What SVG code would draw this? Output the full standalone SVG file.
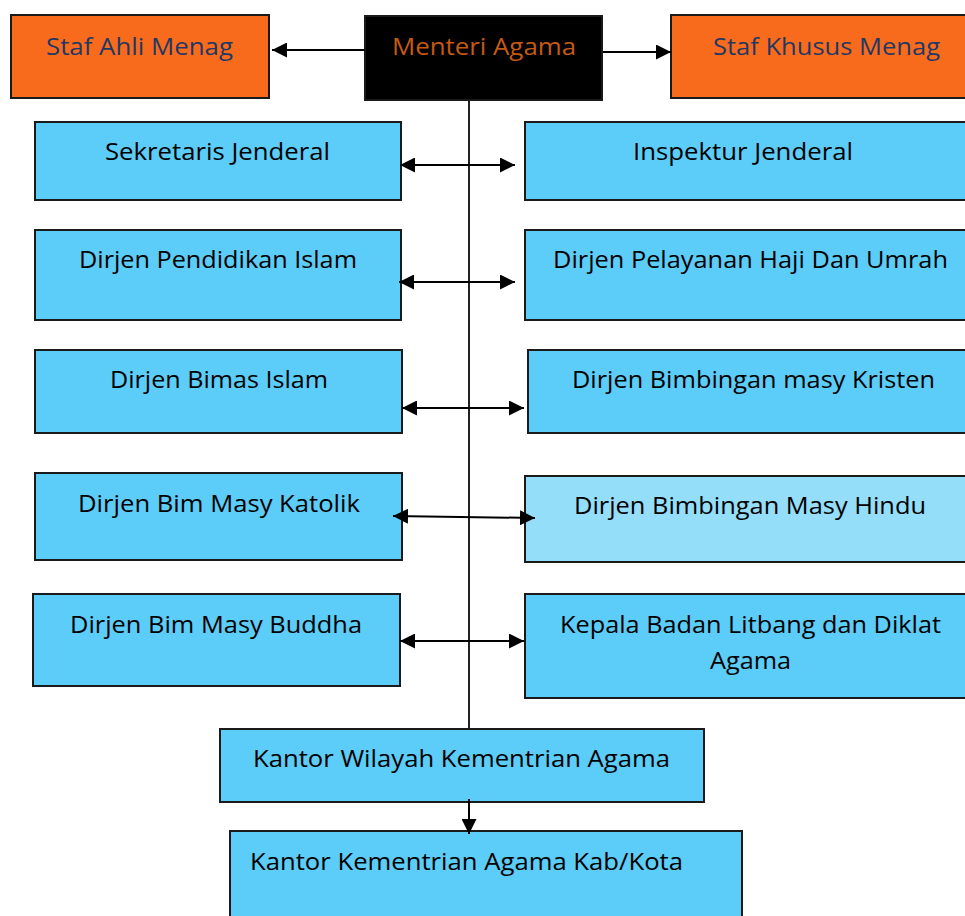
<svg xmlns="http://www.w3.org/2000/svg" width="965" height="916" viewBox="0 0 965 916">
<style>
.box{stroke:#1a1a1a;stroke-width:2}
.blue{fill:#5BCDF8}
.light{fill:#94DEF9}
.orange{fill:#F96B1C}
.black{fill:#000}
text{font-family:"Open Sans","Noto Sans","Liberation Sans",sans-serif;font-size:23px;fill:#000}
.navy{fill:#1F3864}
.ot{fill:#C55A11}
.conn{stroke:#000;stroke-width:2;fill:none}
.vline{stroke:#222;stroke-width:2;fill:none}
</style>
<defs>
<marker id="ah" viewBox="0 0 15 15" refX="15" refY="7.5" markerWidth="15" markerHeight="15" markerUnits="userSpaceOnUse" orient="auto-start-reverse">
<path d="M0,0 L15,7.5 L0,15 z" fill="#000"/>
</marker>
</defs>
<rect width="965" height="916" fill="#fff"/>
<g id="staf-ahli">
<rect class="box orange" x="11" y="15" width="258" height="83"/>
<text class="navy" x="46" y="55" textLength="187" lengthAdjust="spacingAndGlyphs">Staf Ahli Menag</text>
</g>
<g id="menteri">
<rect class="box black" x="365" y="16" width="237" height="84"/>
<text class="ot" x="392" y="55" textLength="184" lengthAdjust="spacingAndGlyphs">Menteri Agama</text>
</g>
<g id="staf-khusus">
<rect class="box orange" x="671" y="15" width="300" height="83"/>
<text class="navy" x="713" y="55" textLength="227" lengthAdjust="spacingAndGlyphs">Staf Khusus Menag</text>
</g>
<g id="sekjen">
<rect class="box blue" x="35" y="122" width="366" height="78"/>
<text x="105" y="160" textLength="225" lengthAdjust="spacingAndGlyphs">Sekretaris Jenderal</text>
</g>
<g id="irjen">
<rect class="box blue" x="525" y="122" width="446" height="78"/>
<text x="633" y="160" textLength="220" lengthAdjust="spacingAndGlyphs">Inspektur Jenderal</text>
</g>
<g id="pendis">
<rect class="box blue" x="35" y="230" width="366" height="90"/>
<text x="79" y="268" textLength="278" lengthAdjust="spacingAndGlyphs">Dirjen Pendidikan Islam</text>
</g>
<g id="haji">
<rect class="box blue" x="525" y="230" width="446" height="90"/>
<text x="553" y="268" textLength="395" lengthAdjust="spacingAndGlyphs">Dirjen Pelayanan Haji Dan Umrah</text>
</g>
<g id="bimas-islam">
<rect class="box blue" x="35" y="350" width="367" height="83"/>
<text x="110" y="388" textLength="218" lengthAdjust="spacingAndGlyphs">Dirjen Bimas Islam</text>
</g>
<g id="kristen">
<rect class="box blue" x="528" y="350" width="443" height="83"/>
<text x="572" y="388" textLength="363" lengthAdjust="spacingAndGlyphs">Dirjen Bimbingan masy Kristen</text>
</g>
<g id="katolik">
<rect class="box blue" x="35" y="473" width="367" height="87"/>
<text x="78" y="512" textLength="282" lengthAdjust="spacingAndGlyphs">Dirjen Bim Masy Katolik</text>
</g>
<g id="hindu">
<rect class="box light" x="525" y="476" width="446" height="86"/>
<text x="574" y="514" textLength="352" lengthAdjust="spacingAndGlyphs">Dirjen Bimbingan Masy Hindu</text>
</g>
<g id="buddha">
<rect class="box blue" x="33" y="594" width="367" height="92"/>
<text x="70" y="633" textLength="292" lengthAdjust="spacingAndGlyphs">Dirjen Bim Masy Buddha</text>
</g>
<g id="litbang">
<rect class="box blue" x="525" y="594" width="446" height="104"/>
<text x="560" y="633" textLength="381" lengthAdjust="spacingAndGlyphs">Kepala Badan Litbang dan Diklat</text>
<text x="710" y="669" textLength="81" lengthAdjust="spacingAndGlyphs">Agama</text>
</g>
<g id="kanwil">
<rect class="box blue" x="220" y="729" width="484" height="73"/>
<text x="253" y="767" textLength="417" lengthAdjust="spacingAndGlyphs">Kantor Wilayah Kementrian Agama</text>
</g>
<g id="kankemenag">
<rect class="box blue" x="230" y="831" width="512" height="95"/>
<text x="250" y="870" textLength="433" lengthAdjust="spacingAndGlyphs">Kantor Kementrian Agama Kab/Kota</text>
</g>
<g id="connectors">
<line class="vline" x1="469" y1="101" x2="469" y2="728"/>
<line class="conn" x1="365" y1="50" x2="272" y2="50" marker-end="url(#ah)"/>
<line class="conn" x1="603" y1="52" x2="671" y2="52" marker-end="url(#ah)"/>
<line class="conn" x1="400" y1="165" x2="515" y2="165" marker-start="url(#ah)" marker-end="url(#ah)"/>
<line class="conn" x1="399" y1="282" x2="515" y2="282" marker-start="url(#ah)" marker-end="url(#ah)"/>
<line class="conn" x1="402" y1="408" x2="524" y2="408" marker-start="url(#ah)" marker-end="url(#ah)"/>
<line class="conn" x1="393" y1="516" x2="535" y2="518" marker-start="url(#ah)" marker-end="url(#ah)"/>
<line class="conn" x1="400" y1="641" x2="524" y2="641" marker-start="url(#ah)" marker-end="url(#ah)"/>
<line class="conn" x1="469" y1="799" x2="469" y2="834" marker-end="url(#ah)"/>
</g>
</svg>
